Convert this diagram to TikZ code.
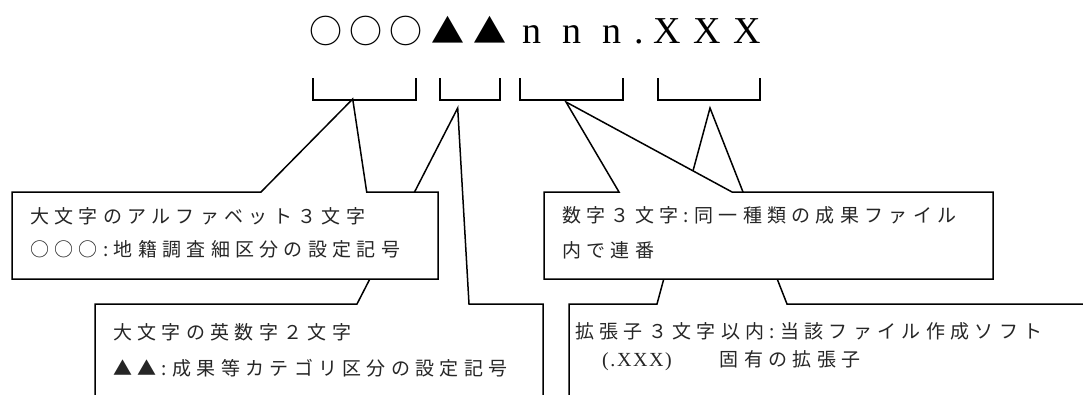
\documentclass[tikz,border=0pt]{standalone}
\usepackage{fontspec}
\setmainfont{Liberation Serif}
\newfontfamily\cjkfont[LetterSpace=28]{Noto Sans CJK JP}
\newfontfamily\cjkplain{Noto Sans CJK JP}
\newfontfamily\latfont[LetterSpace=8]{Liberation Serif}
\begin{document}
\begin{tikzpicture}[x=1pt,y=-1pt,
  callout/.style={draw=black, fill=white, line width=1.5pt, line join=miter},
  bracket/.style={draw=black, line width=1.3pt},
  lbl/.style={font=\cjkfont\fontsize{19}{22}\selectfont, text=black!85, inner sep=0pt, anchor=west},
  ttlc/.style={font=\cjkplain\fontsize{33}{36}\selectfont, inner sep=0pt, anchor=base},
  ttll/.style={font=\fontsize{38}{40}\selectfont, inner sep=0pt, anchor=base}]
\useasboundingbox (0,0) rectangle (1083,394);
\clip (0,0) rectangle (1083,394);
% title characters
\foreach \x/\c/\f [count=\i] in {326/○/c, 366/○/c, 406/○/c, 448/▲/c, 490/▲/c,
  532/n/l, 572/n/l, 612/n/l, 639/./l, 667/X/l, 707/X/l, 747/X/l}
  \node[ttl\f] (t\i) at (\x,43) {\c};
% brackets
\draw[bracket] (313,78) -- (313,100) -- (416,100) -- (416,78);
\draw[bracket] (440,78) -- (440,100) -- (500,100) -- (500,78);
\draw[bracket] (520,78) -- (520,100) -- (623,100) -- (623,78);
\draw[bracket] (658,78) -- (658,100) -- (760,100) -- (760,78);
% callout tips
\coordinate (tipA) at (352.7,99);
\coordinate (tipB) at (457.7,108);
\coordinate (tipC) at (566,102);
\coordinate (tipD) at (710,108);
% lower callouts first
\draw[callout] (95,304) -- (357,304) -- (tipB) -- (469,304) -- (543,304) -- (543,410) -- (95,410) -- cycle;
\draw[callout] (569,304) -- (657,304) -- (tipD) -- (787,304) -- (1100,304) -- (1100,410) -- (569,410) -- cycle;
% upper callouts
\draw[callout] (12,192) -- (261,192) -- (tipA) -- (366.7,192) -- (438,192) -- (438,279) -- (12,279) -- cycle;
\draw[callout] (544,192) -- (619,192) -- (tipC) -- (732,192) -- (993,192) -- (993,279) -- (544,279) -- cycle;
% texts
\node[lbl] (b1a) at (30,216) {大文字のアルファベット３文字};
\node[lbl] (b1b) at (30,249) {○○○:地籍調査細区分の設定記号};
\node[lbl] (b2a) at (113,332) {大文字の英数字２文字};
\node[lbl] (b2b) at (113,368) {▲▲:成果等カテゴリ区分の設定記号};
\node[lbl] (b3a) at (562,215) {数字３文字:同一種類の成果ファイル};
\node[lbl] (b3b) at (562,250) {内で連番};
\node[lbl] (b4a) at (575,331) {拡張子３文字以内:当該ファイル作成ソフト};
\node[lbl] (b4b) at (602,361) {{\latfont\fontsize{20}{22}\selectfont(.XXX)}\hspace{48pt}固有の拡張子};
\end{tikzpicture}
\end{document}
